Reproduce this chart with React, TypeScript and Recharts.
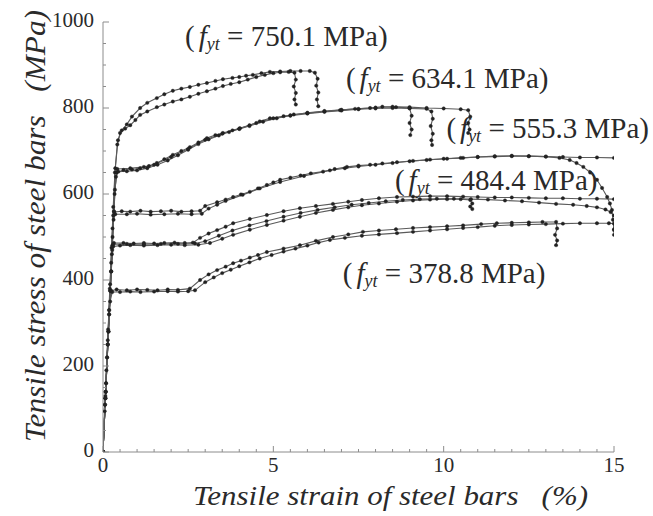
import { LineChart, Line, XAxis, YAxis, ReferenceDot, Label } from 'recharts';

type Pt = [number, number];

// [strain %, stress MPa]
const bar750a: Pt[] = [[0,0],[0.05,95],[0.1,190],[0.15,285],[0.2,380],[0.25,475],[0.3,570],[0.35,650],[0.42,715],[0.5,742],[0.65,752],[0.8,760],[0.95,772],[1.09,784],[1.3,792],[1.58,802],[1.8,808],[2.05,815],[2.3,820],[2.55,826],[2.8,833],[3.05,839],[3.3,845],[3.52,851],[3.75,856],[4.0,860],[4.25,866],[4.5,872],[4.75,877],[5.0,881],[5.2,883],[5.45,884],[5.62,882],[5.66,866],[5.6,850],[5.66,835],[5.62,820],[5.66,808]];
const bar750b: Pt[] = [[0,0],[0.06,110],[0.12,220],[0.18,330],[0.24,440],[0.3,550],[0.36,660],[0.44,725],[0.55,748],[0.7,762],[0.85,780],[1.09,800],[1.3,812],[1.58,823],[1.8,832],[2.05,840],[2.3,845],[2.55,849],[2.8,854],[3.05,858],[3.3,863],[3.52,867],[3.8,870],[4.0,872],[4.2,875],[4.4,877],[4.65,881],[4.9,884],[5.2,885],[5.5,886],[5.8,886],[6.07,886],[6.22,882],[6.3,868],[6.26,852],[6.32,836],[6.28,820],[6.32,804]];

const bar634a: Pt[] = [[0,0],[0.07,125],[0.14,250],[0.21,375],[0.28,500],[0.34,600],[0.4,650],[0.6,656],[0.85,657],[1.09,660],[1.35,665],[1.58,672],[1.8,681],[2.05,691],[2.3,700],[2.55,709],[2.8,720],[3.05,730],[3.3,737],[3.52,742],[3.8,748],[4.02,753],[4.3,760],[4.6,769],[4.9,776],[5.3,781],[5.6,785],[6.0,788],[6.5,792],[6.96,795],[7.4,798],[7.84,800],[8.2,803],[8.6,802],[9.0,800],[9.06,782],[9.0,765],[9.06,750],[9.02,737]];
const bar634b: Pt[] = [[0,0],[0.08,140],[0.16,280],[0.24,420],[0.32,560],[0.38,640],[0.45,652],[0.7,653],[1.0,655],[1.3,660],[1.6,668],[1.9,678],[2.2,690],[2.5,703],[2.8,716],[3.1,727],[3.4,736],[3.7,744],[4.0,751],[4.3,758],[4.7,768],[5.1,776],[5.5,782],[6.0,787],[6.5,791],[7.0,794],[7.5,797],[8.0,799],[8.5,800],[9.0,799],[9.5,798],[9.64,792],[9.68,775],[9.62,758],[9.68,740],[9.64,725],[9.66,714]];
const bar634c: Pt[] = [[0,0],[0.09,160],[0.18,320],[0.27,480],[0.35,610],[0.42,658],[0.8,660],[1.2,663],[1.5,668],[2.0,686],[2.5,705],[3.0,726],[3.5,740],[4.0,752],[4.5,765],[5.0,776],[5.5,783],[6.0,789],[6.5,793],[7.0,796],[7.5,798],[8.0,801],[8.5,803],[9.0,802],[9.5,800],[10.0,799],[10.5,797],[10.72,795],[10.78,780],[10.72,765],[10.76,750],[10.72,742]];

const bar555a: Pt[] = [[0,0],[0.07,130],[0.14,260],[0.21,390],[0.28,520],[0.33,558],[0.55,560],[0.8,559],[1.1,561],[1.4,559],[1.7,560],[2.0,561],[2.3,559],[2.6,560],[2.85,561],[3.0,572],[3.35,581],[3.6,587],[3.82,593],[4.05,599],[4.31,605],[4.55,613],[4.81,621],[5.0,627],[5.2,633],[5.5,638],[5.8,643],[6.1,648],[6.46,652],[6.8,658],[7.16,663],[7.5,666],[7.84,668],[8.2,671],[8.63,674],[9.1,677],[9.6,680],[10.1,682],[10.57,684],[11.0,686],[11.5,687],[12.0,688],[12.5,688],[13.0,687],[13.5,686],[14.0,685],[14.5,685],[15.0,684]];
const bar555b: Pt[] = [[0,0],[0.08,140],[0.16,280],[0.24,420],[0.31,540],[0.36,553],[0.7,553],[1.0,554],[1.4,552],[1.8,553],[2.2,554],[2.6,553],[2.9,554],[3.1,566],[3.35,575],[3.6,584],[4.1,598],[4.6,613],[5.2,628],[5.9,642],[6.66,655],[7.1,660],[7.5,664],[8.0,668],[8.5,672],[9.0,676],[9.5,679],[10.0,682],[10.5,684],[11.0,686],[11.5,688],[12.0,689],[12.5,688],[13.0,687],[13.4,684],[13.7,679],[13.9,672],[14.1,663],[14.3,650],[14.5,633],[14.65,614],[14.8,593],[14.88,578],[14.94,563],[14.97,540],[15.0,516]];

const bar484a: Pt[] = [[0,0],[0.07,125],[0.14,250],[0.21,375],[0.27,470],[0.32,486],[0.6,486],[0.9,485],[1.2,486],[1.5,485],[1.8,486],[2.1,487],[2.4,486],[2.64,487],[2.85,498],[3.1,508],[3.35,516],[3.6,524],[3.82,532],[4.31,542],[4.81,551],[5.3,560],[5.78,567],[6.25,572],[6.75,577],[7.2,582],[7.6,586],[8.1,590],[8.63,593],[9.1,594],[9.6,595],[10.1,595],[10.57,594],[11.0,593],[11.5,592],[12.0,592],[12.5,591],[13.0,590],[13.5,590],[14.0,589],[14.5,589],[15.0,588]];
const bar484b: Pt[] = [[0,0],[0.08,140],[0.16,280],[0.24,420],[0.3,478],[0.5,480],[0.8,481],[1.2,480],[1.6,481],[2.0,482],[2.4,481],[2.8,482],[3.14,486],[3.5,496],[3.82,505],[4.31,517],[4.81,528],[5.3,538],[5.78,547],[6.25,556],[6.75,563],[7.2,569],[7.6,574],[8.1,578],[8.63,582],[9.1,585],[9.6,587],[10.1,588],[10.5,588],[10.78,586],[10.84,578],[10.78,571],[10.84,565]];
const bar484c: Pt[] = [[0,0],[0.09,160],[0.18,320],[0.26,460],[0.3,483],[0.7,484],[1.2,483],[1.7,484],[2.2,484],[2.7,485],[3.0,490],[3.4,503],[3.8,515],[4.3,527],[4.8,537],[5.3,547],[5.8,556],[6.3,563],[6.8,569],[7.3,575],[7.8,579],[8.3,583],[8.8,586],[9.3,588],[9.8,589],[10.3,589],[10.8,588],[11.3,587],[11.8,585],[12.3,583],[12.8,580],[13.3,577],[13.8,575],[14.2,572],[14.5,569],[14.75,564],[14.9,558],[15.0,550]];

const bar378a: Pt[] = [[0,0],[0.06,110],[0.12,220],[0.18,330],[0.24,375],[0.4,378],[0.7,376],[1.0,378],[1.3,377],[1.6,376],[1.9,378],[2.2,377],[2.55,380],[2.85,400],[3.1,413],[3.35,423],[3.6,431],[3.82,439],[4.05,445],[4.31,452],[4.55,458],[4.81,465],[5.3,473],[5.78,481],[6.25,491],[6.75,500],[7.2,506],[7.63,512],[8.1,515],[8.6,518],[9.1,521],[9.6,523],[10.1,525],[10.57,527],[11.1,530],[11.56,532],[12.0,533],[12.5,534],[12.9,535],[13.3,535],[13.33,520],[13.27,505],[13.33,492],[13.3,481]];
const bar378b: Pt[] = [[0,0],[0.07,125],[0.14,250],[0.21,350],[0.27,372],[0.5,372],[0.8,373],[1.1,372],[1.5,373],[1.9,374],[2.2,373],[2.5,374],[2.7,376],[3.0,395],[3.25,406],[3.5,416],[3.75,424],[4.0,432],[4.3,441],[4.6,450],[4.95,458],[5.3,466],[5.65,473],[6.0,480],[6.33,487],[6.66,493],[7.1,498],[7.6,503],[8.1,506],[8.63,509],[9.1,512],[9.6,515],[10.1,518],[10.57,521],[11.0,523],[11.5,526],[12.0,528],[12.5,529],[13.0,530],[13.5,531],[14.0,532],[14.5,532],[14.85,532],[15.0,531],[15.0,518],[15.0,505]];

const curves = [bar750a, bar750b, bar634a, bar634b, bar634c, bar555a, bar555b, bar484a, bar484b, bar484c, bar378a, bar378b];

// yield strength captions and where they sit (strain, stress)
const yieldStrengths = ['750.1', '634.1', '555.3', '484.4', '378.8'];
const captionAt: Pt[] = [[2.41, 944], [7.13, 847], [10.08, 730], [8.57, 609], [7.04, 393]];

const xMajor = [0, 5, 10, 15];
const xTicks = [0, 0.5, 1, 1.5, 2, 2.5, 3, 3.5, 4, 4.5, 5, 5.5, 6, 6.5, 7, 7.5, 8, 8.5, 9, 9.5, 10, 10.5, 11, 11.5, 12, 12.5, 13, 13.5, 14, 14.5, 15];
const yMajor = [0, 200, 400, 600, 800, 1000];
const yTicks = [0, 50, 100, 150, 200, 250, 300, 350, 400, 450, 500, 550, 600, 650, 700, 750, 800, 850, 900, 950, 1000];

const FONT = 'Liberation Serif, DejaVu Serif, Times New Roman, serif';
const INK = '#2a2a2a';
const AXIS = '#8c8c8c';

function XTick({ x, y, payload }: any) {
  const major = xMajor.includes(payload.value);
  return (
    <g>
      <line x1={x} x2={x} y1={y} y2={y - (major ? 6 : 3)} stroke={AXIS} />
      {major && (
        <text x={x} y={y + 20} textAnchor="middle" style={{ fontFamily: FONT }} fontSize={21} fill={INK}>
          {payload.value}
        </text>
      )}
    </g>
  );
}

function YTick({ x, y, payload }: any) {
  const major = yMajor.includes(payload.value);
  return (
    <g>
      <line x1={x} x2={x + (major ? 6 : 3)} y1={y} y2={y} stroke={AXIS} />
      {major && (
        <text x={x - 9} y={y + 5} textAnchor="end" style={{ fontFamily: FONT }} fontSize={21} fill={INK}>
          {payload.value}
        </text>
      )}
    </g>
  );
}

function FytCaption({ viewBox, fyt }: any) {
  const x = viewBox.x + (viewBox.width || 0) / 2;
  const y = viewBox.y + (viewBox.height || 0) / 2;
  return (
    <text x={x} y={y} style={{ fontFamily: FONT }} fontSize={29} fill={INK}>
      <tspan>(</tspan>
      <tspan dx={4} fontStyle="italic">f</tspan>
      <tspan fontStyle="italic" fontSize={18} dy={4}>yt</tspan>
      <tspan dy={-4}>{` = ${fyt} MPa)`}</tspan>
    </text>
  );
}

function XTitle({ viewBox }: any) {
  return (
    <text x={viewBox.x + 90} y={viewBox.y + 53} style={{ fontFamily: FONT }} fontStyle="italic" fontSize={28}
      fill={INK} textLength={395} lengthAdjust="spacingAndGlyphs">
      Tensile strain of steel bars {'\u00a0\u00a0'}(%)
    </text>
  );
}

function YTitle({ viewBox }: any) {
  const cx = viewBox.x + 45;
  const cy = viewBox.y + viewBox.height / 2 - 11;
  return (
    <text x={cx} y={cy} transform={`rotate(-90 ${cx} ${cy})`} textAnchor="middle" style={{ fontFamily: FONT }}
      fontStyle="italic" fontSize={29} fill={INK} textLength={432} lengthAdjust="spacingAndGlyphs">
      Tensile stress of steel bars {'\u00a0\u00a0'}(MPa)
    </text>
  );
}

export default function App() {
  return (
    <div style={{ position: 'absolute', left: 0, top: 0, background: '#fff', fontFamily: FONT }}>
      <LineChart width={653} height={516} margin={{ top: 22, right: 39, left: 0, bottom: 0 }}>
        <XAxis
          dataKey="x"
          type="number"
          domain={[0, 15]}
          allowDataOverflow
          ticks={xTicks}
          interval={0}
          tickSize={0}
          tickMargin={0}
          tickLine={false}
          tick={<XTick />}
          axisLine={{ stroke: AXIS }}
          height={64}
        >
          <Label content={<XTitle />} />
        </XAxis>
        <YAxis
          type="number"
          domain={[0, 1000]}
          allowDataOverflow
          ticks={yTicks}
          interval={0}
          tickSize={0}
          tickMargin={0}
          tickLine={false}
          tick={<YTick />}
          axisLine={{ stroke: AXIS }}
          width={103}
        >
          <Label content={<YTitle />} />
        </YAxis>
        {curves.map((c, i) => (
          <Line
            key={i}
            data={c.map(([x, y]) => ({ x, y }))}
            dataKey="y"
            type="linear"
            stroke="#5a5a5a"
            strokeWidth={1.1}
            dot={{ r: 1.7, fill: '#222', stroke: '#222', strokeWidth: 0.4 }}
            activeDot={false}
            isAnimationActive={false}
          />
        ))}
        {yieldStrengths.map((f, i) => (
          <ReferenceDot
            key={f}
            x={captionAt[i][0]}
            y={captionAt[i][1]}
            r={0}
            fill="none"
            stroke="none"
            label={<FytCaption fyt={f} />}
          />
        ))}
      </LineChart>
    </div>
  );
}
